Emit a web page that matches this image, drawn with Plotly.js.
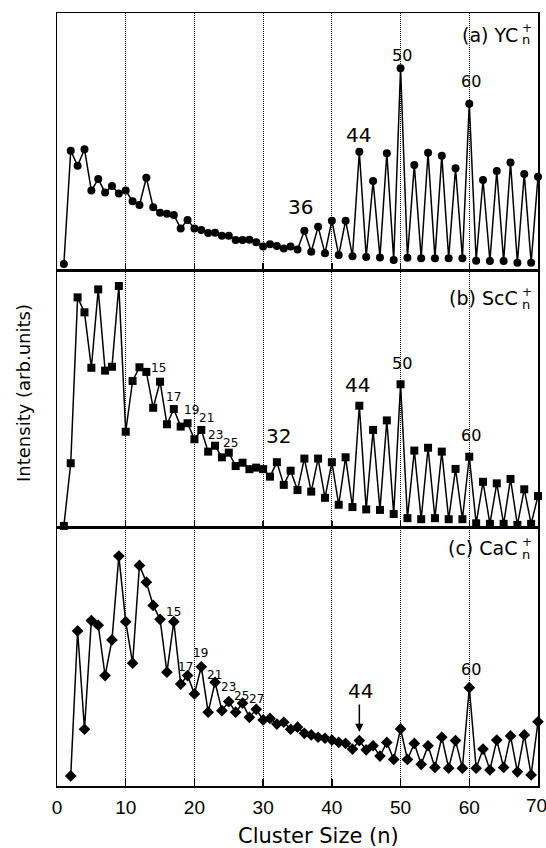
<!DOCTYPE html>
<html>
<head>
<meta charset="utf-8">
<script src="https://cdn.plot.ly/plotly-3.0.1.min.js"></script>
<style>
html,body{margin:0;padding:0;background:#fff;}
#chart{width:546px;height:848px;}
</style>
</head>
<body>
<div id="chart"></div>
<script>
// Cluster sizes
const nAB = [1,2,3,4,5,6,7,8,9,10,11,12,13,14,15,16,17,18,19,20,21,22,23,24,25,26,27,28,29,30,31,32,33,34,35,36,37,38,39,40,41,42,43,44,45,46,47,48,49,50,51,52,53,54,55,56,57,58,59,60,61,62,63,64,65,66,67,68,69,70];
const nC = [2,3,4,5,6,7,8,9,10,11,12,13,14,15,16,17,18,19,20,21,22,23,24,25,26,27,28,29,30,31,32,33,34,35,36,37,38,39,40,41,42,43,44,45,46,47,48,49,50,51,52,53,54,55,56,57,58,59,60,61,62,63,64,65,66,67,68,69,70];

// (a) YCn+ intensities (arb. units)
const ycIntensity = [2.3,46.4,40.6,47.0,30.9,35.4,30.2,32.7,29.8,30.9,
  26.8,25.3,35.9,24.4,22.3,21.9,21.4,16.2,19.5,16.2,
  15.6,14.4,14.5,13.3,13.3,11.7,11.7,11.8,10.8,9.2,
  10.0,9.3,8.4,9.2,8.0,15.3,7.1,16.8,6.5,19.2,
  5.8,19.2,5.4,46.0,5.1,34.6,4.9,45.4,3.9,78.5,
  4.8,40.9,4.6,45.6,4.6,44.5,4.6,39.6,4.6,64.7,
  3.6,35.0,3.5,38.5,3.5,41.8,2.8,37.4,2.8,36.3];

// (b) ScCn+ intensities
const sccIntensity = [0.8,25.1,89.4,83.6,62.1,92.5,61.0,62.5,93.8,37.3,
  57.0,62.3,60.5,46.6,56.7,40.2,46.1,39.3,40.6,34.4,
  38.0,29.6,31.9,27.4,29.2,24.0,25.3,22.8,23.4,22.8,
  19.9,25.5,16.7,22.2,14.7,26.9,14.1,26.9,11.7,25.5,
  9.0,27.4,8.1,47.4,7.2,38.0,7.0,41.7,5.4,55.7,
  3.8,30.0,3.4,31.1,3.8,29.6,3.4,22.9,3.4,27.6,
  1.8,17.9,1.6,17.3,1.6,19.0,1.2,15.0,1.6,12.4];

// (c) CaCn+ intensities (n = 2..70)
const cacIntensity = [3.9,60.1,22.0,64.1,62.3,42.8,56.6,89.1,63.7,
  47.6,85.5,79.0,70.0,64.6,44.1,63.7,39.5,42.8,35.7,
  46.2,28.6,40.2,29.2,32.7,28.6,32.1,26.6,29.7,25.6,
  26.2,24.0,24.7,22.0,22.8,20.4,19.8,18.9,18.5,17.8,
  16.9,16.5,14.3,17.6,14.0,15.6,11.6,16.9,10.3,22.1,
  10.3,16.5,8.4,15.6,7.2,18.9,6.9,17.6,6.9,38.1,
  6.9,14.3,6.2,17.8,7.2,19.4,5.5,19.8,4.3,24.9];

const xTickVals = [0,10,20,30,40,50,60,70];
const xTickText = ['0','10','20','30','40','50','60',''];
const lastTickText = '70';

// Peak labels: [text, x, y, size]
const labelsA = [['50',50.2,83.3,16],['60',60.3,73.2,16],['44',43.9,52.7,20],['36',35.5,24.5,20]];
const labelsB = [['50',50.2,63.6,16],['44',43.8,55.4,20],['60',60.3,36.0,16],['32',32.3,35.7,20],
  ['15',14.8,62.0,12],['17',17.0,50.8,12],['19',19.6,45.9,12],['21',21.7,42.6,12],['23',23.0,36.0,12],['25',25.2,32.9,12]];
const labelsC = [['60',60.3,45.0,16],['44',44.1,36.8,20],
  ['15',17.0,67.6,12],['17',18.7,46.3,12],['19',20.9,51.4,12],['21',22.9,43.2,12],['23',24.9,38.4,12],['25',26.8,34.9,12],['27',29.0,33.9,12]];

const FONT = 'DejaVu Sans, sans-serif';
const TICKFONT = 'Liberation Sans, Arial, sans-serif';
const lineStyle = {color:'#000', width:1.5};

function trace(x, y, sym, size, xa, ya){
  return {x:x, y:y, type:'scatter', mode:'lines+markers', xaxis:xa, yaxis:ya,
    line:lineStyle, marker:{symbol:sym, size:size, color:'#000'}, cliponaxis:false, hoverinfo:'skip'};
}
const data = [
  trace(nAB, ycIntensity, 'circle', 8, 'x', 'y'),
  trace(nAB, sccIntensity, 'square', 8, 'x2', 'y2'),
  trace(nC, cacIntensity, 'diamond', 9, 'x3', 'y3')
];

function xax(anchor, showLabels){
  return {domain:[0,1], anchor:anchor, range:[0,70], tickvals:xTickVals, ticktext:xTickText,
    showticklabels:showLabels, ticks:'inside', ticklen:7, tickwidth:1.5, tickcolor:'#000',
    showgrid:true, gridcolor:'#000', griddash:'1px,1px', gridwidth:1,
    showline:true, linecolor:'#000', linewidth:1.5, mirror:true, zeroline:false,
    tickfont:{family:TICKFONT, size:19, color:'#000'},
    ticklabelstandoff:4, fixedrange:true};
}
function yax(anchor, dom){
  return {domain:dom, anchor:anchor, range:[0,100], showticklabels:false, ticks:'',
    showgrid:false, zeroline:false, showline:true, linecolor:'#000', linewidth:1.5, mirror:true, fixedrange:true};
}

const annotations = [];
function addLabels(list, xr, yr){
  list.forEach(function(l){
    annotations.push({x:l[1], y:l[2], xref:xr, yref:yr, text:l[0], showarrow:false,
      xanchor:'center', yanchor:'middle', font:{family:FONT, size:l[3], color:'#000'}});
  });
}
addLabels(labelsA,'x','y');
addLabels(labelsB,'x2','y2');
addLabels(labelsC,'x3','y3');

function panelLabel(main, xr, yr, yMain, yPlus, yN){
  annotations.push({x:67.45, y:yMain, xref:xr, yref:yr, text:main, showarrow:false,
    xanchor:'right', yanchor:'middle', font:{family:FONT, size:19, color:'#000'}});
  annotations.push({x:67.5, y:yPlus, xref:xr, yref:yr, text:'+', showarrow:false,
    xanchor:'left', yanchor:'middle', borderpad:0, font:{family:FONT, size:12, color:'#000'}});
  annotations.push({x:67.5, y:yN, xref:xr, yref:yr, text:'n', showarrow:false,
    xanchor:'left', yanchor:'middle', borderpad:0, font:{family:FONT, size:13, color:'#000'}});
}
panelLabel('(a) YC','x','y',91.6,94.2,89.6);
panelLabel('(b) ScC','x2','y2',89.3,91.6,86.8);
panelLabel('(c) CaC','x3','y3',92.2,94.4,89.7);

// arrow at n = 44 in panel (c)
annotations.push({x:44.0, y:20.9, xref:'x3', yref:'y3', ax:44.0, ay:32.2, axref:'x3', ayref:'y3',
  text:'', showarrow:true, arrowhead:2, arrowsize:1.1, arrowwidth:1.5, arrowcolor:'#000', standoff:0});

// last x tick label, kept inside the page as in the reference
annotations.push({x:1, y:0, xref:'paper', yref:'paper', xshift:-2, yshift:-19, text:lastTickText,
  showarrow:false, xanchor:'center', yanchor:'middle', font:{family:TICKFONT, size:19, color:'#000'}});

// axis titles
annotations.push({x:0, y:0, xref:'paper', yref:'paper', xshift:318-57, yshift:-50, text:'Cluster Size (n)',
  showarrow:false, xanchor:'center', yanchor:'middle', font:{family:FONT, size:21, color:'#000'}});
annotations.push({x:0, y:0.5084, xref:'paper', yref:'paper', xshift:23-57, text:'Intensity (arb.units)',
  textangle:-90, showarrow:false, xanchor:'center', yanchor:'middle', font:{family:FONT, size:18, color:'#000'}});

const layout = {
  width:546, height:848,
  margin:{l:57, r:8, t:13, b:62, pad:0},
  paper_bgcolor:'#fff', plot_bgcolor:'#fff',
  showlegend:false,
  xaxis:xax('y', false),
  xaxis2:xax('y2', false),
  xaxis3:xax('y3', true),
  yaxis:yax('x', [0.6675,1]),
  yaxis2:yax('x2', [0.3338,0.6675]),
  yaxis3:yax('x3', [0,0.3338]),
  annotations:annotations
};

Plotly.newPlot('chart', data, layout, {displayModeBar:false, staticPlot:true});
</script>
</body>
</html>
